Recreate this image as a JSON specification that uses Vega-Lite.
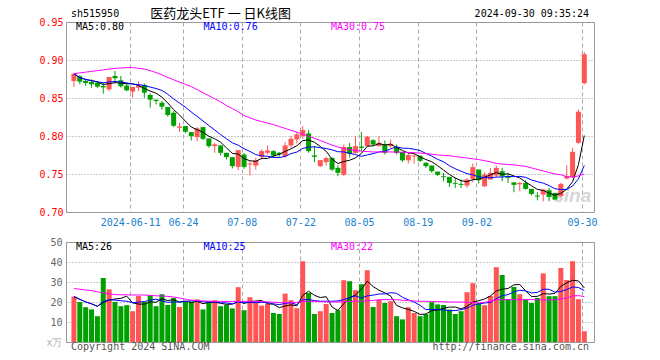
{
"$schema":"https://vega.github.io/schema/vega-lite/v6.json",
"padding":{"left":38,"top":7,"right":5,"bottom":5},
"background":"white",
"datasets":{"k":[
{"i":0,"d":"2024-05-27","o":0.8724,"h":0.882,"l":0.8645,"c":0.882,"v":22.7,"m30":0.882,"vm30":26.7},
{"i":1,"d":"2024-05-28","o":0.8786,"h":0.880,"l":0.868,"c":0.8715,"v":20,"m30":0.883,"vm30":26.4},
{"i":2,"d":"2024-05-29","o":0.8724,"h":0.8746,"l":0.866,"c":0.8698,"v":17.4,"m30":0.884,"vm30":26.0},
{"i":3,"d":"2024-05-30","o":0.871,"h":0.8746,"l":0.8636,"c":0.868,"v":16.3,"m30":0.885,"vm30":25.7},
{"i":4,"d":"2024-05-31","o":0.8702,"h":0.872,"l":0.863,"c":0.865,"v":12.9,"m30":0.886,"vm30":25.1},
{"i":5,"d":"2024-06-03","o":0.8658,"h":0.870,"l":0.8557,"c":0.864,"v":32,"m30":0.887,"vm30":24.5},
{"i":6,"d":"2024-06-04","o":0.8614,"h":0.8777,"l":0.859,"c":0.8777,"v":26.3,"m30":0.888,"vm30":24.1},
{"i":7,"d":"2024-06-05","o":0.879,"h":0.8856,"l":0.870,"c":0.876,"v":20,"m30":0.889,"vm30":23.7},
{"i":8,"d":"2024-06-06","o":0.8733,"h":0.879,"l":0.8636,"c":0.8654,"v":17.9,"m30":0.8895,"vm30":23.6},
{"i":9,"d":"2024-06-07","o":0.8663,"h":0.869,"l":0.859,"c":0.8601,"v":18.4,"m30":0.890,"vm30":23.6},
{"i":10,"d":"2024-06-11","o":0.8584,"h":0.8645,"l":0.8504,"c":0.8645,"v":15.4,"m30":0.890,"vm30":23.5},
{"i":11,"d":"2024-06-12","o":0.8636,"h":0.872,"l":0.859,"c":0.8663,"v":23,"m30":0.889,"vm30":23.5},
{"i":12,"d":"2024-06-13","o":0.8672,"h":0.869,"l":0.8504,"c":0.857,"v":20,"m30":0.888,"vm30":23.5},
{"i":13,"d":"2024-06-14","o":0.854,"h":0.856,"l":0.8372,"c":0.8478,"v":23.3,"m30":0.886,"vm30":23.3},
{"i":14,"d":"2024-06-17","o":0.8478,"h":0.8478,"l":0.8416,"c":0.846,"v":17.9,"m30":0.8835,"vm30":23.1},
{"i":15,"d":"2024-06-18","o":0.8438,"h":0.846,"l":0.8346,"c":0.8386,"v":23.9,"m30":0.8805,"vm30":23.0},
{"i":16,"d":"2024-06-19","o":0.8381,"h":0.8381,"l":0.8254,"c":0.8276,"v":18.5,"m30":0.877,"vm30":22.8},
{"i":17,"d":"2024-06-20","o":0.8306,"h":0.8328,"l":0.8117,"c":0.8135,"v":22,"m30":0.874,"vm30":22.5},
{"i":18,"d":"2024-06-21","o":0.8108,"h":0.8174,"l":0.8056,"c":0.8126,"v":17.5,"m30":0.871,"vm30":22.0},
{"i":19,"d":"2024-06-24","o":0.8131,"h":0.8131,"l":0.8038,"c":0.8056,"v":20.5,"m30":0.868,"vm30":21.4},
{"i":20,"d":"2024-06-25","o":0.8051,"h":0.8051,"l":0.7941,"c":0.7999,"v":20.2,"m30":0.865,"vm30":20.9},
{"i":21,"d":"2024-06-26","o":0.7985,"h":0.8117,"l":0.7933,"c":0.81,"v":21.3,"m30":0.861,"vm30":20.7},
{"i":22,"d":"2024-06-27","o":0.8117,"h":0.8117,"l":0.7946,"c":0.7963,"v":16.3,"m30":0.857,"vm30":20.5},
{"i":23,"d":"2024-06-28","o":0.7968,"h":0.7968,"l":0.7845,"c":0.7867,"v":20.5,"m30":0.853,"vm30":20.4},
{"i":24,"d":"2024-07-01","o":0.7867,"h":0.7911,"l":0.7779,"c":0.7889,"v":20.9,"m30":0.849,"vm30":20.3},
{"i":25,"d":"2024-07-02","o":0.7876,"h":0.7876,"l":0.7744,"c":0.7779,"v":17.9,"m30":0.845,"vm30":20.3},
{"i":26,"d":"2024-07-03","o":0.7779,"h":0.7779,"l":0.7691,"c":0.7722,"v":18.5,"m30":0.840,"vm30":20.3},
{"i":27,"d":"2024-07-04","o":0.7722,"h":0.7722,"l":0.7572,"c":0.7603,"v":16.8,"m30":0.836,"vm30":20.3},
{"i":28,"d":"2024-07-05","o":0.7594,"h":0.7814,"l":0.755,"c":0.7814,"v":27.4,"m30":0.832,"vm30":20.3},
{"i":29,"d":"2024-07-08","o":0.7757,"h":0.7775,"l":0.7568,"c":0.7594,"v":15.9,"m30":0.827,"vm30":20.3},
{"i":30,"d":"2024-07-09","o":0.7625,"h":0.7669,"l":0.748,"c":0.7638,"v":22.4,"m30":0.824,"vm30":20.3},
{"i":31,"d":"2024-07-10","o":0.7612,"h":0.7713,"l":0.7559,"c":0.7682,"v":20,"m30":0.821,"vm30":20.3},
{"i":32,"d":"2024-07-11","o":0.7726,"h":0.7823,"l":0.7691,"c":0.7801,"v":18.2,"m30":0.819,"vm30":20.2},
{"i":33,"d":"2024-07-12","o":0.7779,"h":0.7876,"l":0.7757,"c":0.781,"v":19.2,"m30":0.817,"vm30":20.1},
{"i":34,"d":"2024-07-15","o":0.7801,"h":0.7814,"l":0.7713,"c":0.7744,"v":14.5,"m30":0.815,"vm30":19.9},
{"i":35,"d":"2024-07-16","o":0.7779,"h":0.7788,"l":0.7726,"c":0.7757,"v":14,"m30":0.8125,"vm30":19.7},
{"i":36,"d":"2024-07-17","o":0.7735,"h":0.792,"l":0.7713,"c":0.7876,"v":24.2,"m30":0.810,"vm30":19.6},
{"i":37,"d":"2024-07-18","o":0.7876,"h":0.7999,"l":0.7845,"c":0.7963,"v":20.9,"m30":0.8075,"vm30":19.6},
{"i":38,"d":"2024-07-19","o":0.7955,"h":0.8051,"l":0.7902,"c":0.8021,"v":16.9,"m30":0.805,"vm30":19.8},
{"i":39,"d":"2024-07-22","o":0.80,"h":0.8131,"l":0.7964,"c":0.8078,"v":40.4,"m30":0.8025,"vm30":20.3},
{"i":40,"d":"2024-07-23","o":0.8034,"h":0.8078,"l":0.7779,"c":0.7801,"v":24.5,"m30":0.7995,"vm30":20.3},
{"i":41,"d":"2024-07-24","o":0.7744,"h":0.7867,"l":0.7656,"c":0.7726,"v":14,"m30":0.797,"vm30":20.3},
{"i":42,"d":"2024-07-25","o":0.7603,"h":0.7682,"l":0.7594,"c":0.7682,"v":15.4,"m30":0.794,"vm30":20.2},
{"i":43,"d":"2024-07-26","o":0.7656,"h":0.7726,"l":0.7612,"c":0.7709,"v":19,"m30":0.791,"vm30":20.1},
{"i":44,"d":"2024-07-29","o":0.7713,"h":0.7713,"l":0.7537,"c":0.7559,"v":14.5,"m30":0.788,"vm30":20.0},
{"i":45,"d":"2024-07-30","o":0.7581,"h":0.7612,"l":0.7471,"c":0.7515,"v":15.9,"m30":0.7855,"vm30":20.0},
{"i":46,"d":"2024-07-31","o":0.749,"h":0.7888,"l":0.7475,"c":0.7855,"v":30.9,"m30":0.7835,"vm30":20.2},
{"i":47,"d":"2024-08-01","o":0.7855,"h":0.791,"l":0.7717,"c":0.7767,"v":30.4,"m30":0.782,"vm30":20.3},
{"i":48,"d":"2024-08-02","o":0.7778,"h":0.7998,"l":0.7767,"c":0.7866,"v":25.9,"m30":0.781,"vm30":20.4},
{"i":49,"d":"2024-08-05","o":0.7862,"h":0.8051,"l":0.78,"c":0.7844,"v":28.9,"m30":0.780,"vm30":20.4},
{"i":50,"d":"2024-08-06","o":0.7866,"h":0.80,"l":0.7866,"c":0.799,"v":35.9,"m30":0.7795,"vm30":20.6},
{"i":51,"d":"2024-08-07","o":0.7945,"h":0.7958,"l":0.7866,"c":0.7888,"v":17.5,"m30":0.779,"vm30":20.8},
{"i":52,"d":"2024-08-08","o":0.7866,"h":0.7998,"l":0.7866,"c":0.791,"v":21.2,"m30":0.779,"vm30":21.0},
{"i":53,"d":"2024-08-09","o":0.7888,"h":0.7941,"l":0.7756,"c":0.7778,"v":19.5,"m30":0.779,"vm30":21.2},
{"i":54,"d":"2024-08-12","o":0.7866,"h":0.7954,"l":0.7844,"c":0.7897,"v":20.4,"m30":0.779,"vm30":21.2},
{"i":55,"d":"2024-08-13","o":0.7853,"h":0.7888,"l":0.7756,"c":0.7778,"v":12.9,"m30":0.7788,"vm30":21.1},
{"i":56,"d":"2024-08-14","o":0.779,"h":0.779,"l":0.766,"c":0.768,"v":11.3,"m30":0.7786,"vm30":20.9},
{"i":57,"d":"2024-08-15","o":0.768,"h":0.7779,"l":0.764,"c":0.775,"v":17.4,"m30":0.7784,"vm30":20.7},
{"i":58,"d":"2024-08-16","o":0.7731,"h":0.7779,"l":0.7638,"c":0.7744,"v":14.5,"m30":0.778,"vm30":20.5},
{"i":59,"d":"2024-08-19","o":0.774,"h":0.7744,"l":0.7656,"c":0.7673,"v":12.9,"m30":0.7775,"vm30":20.4},
{"i":60,"d":"2024-08-20","o":0.7647,"h":0.7655,"l":0.758,"c":0.7603,"v":13.9,"m30":0.777,"vm30":20.3},
{"i":61,"d":"2024-08-21","o":0.7612,"h":0.7612,"l":0.7515,"c":0.7537,"v":19.9,"m30":0.776,"vm30":20.3},
{"i":62,"d":"2024-08-22","o":0.7532,"h":0.7532,"l":0.7471,"c":0.7489,"v":18.8,"m30":0.775,"vm30":20.2},
{"i":63,"d":"2024-08-23","o":0.747,"h":0.7515,"l":0.7405,"c":0.7458,"v":18.5,"m30":0.7745,"vm30":20.1},
{"i":64,"d":"2024-08-26","o":0.7462,"h":0.7462,"l":0.733,"c":0.7383,"v":16.2,"m30":0.774,"vm30":20.0},
{"i":65,"d":"2024-08-27","o":0.7383,"h":0.7449,"l":0.7317,"c":0.7371,"v":14,"m30":0.773,"vm30":20.0},
{"i":66,"d":"2024-08-28","o":0.737,"h":0.7427,"l":0.7317,"c":0.7357,"v":15.4,"m30":0.772,"vm30":20.0},
{"i":67,"d":"2024-08-29","o":0.7348,"h":0.7449,"l":0.7317,"c":0.7427,"v":24.9,"m30":0.771,"vm30":19.9},
{"i":68,"d":"2024-08-30","o":0.7436,"h":0.7638,"l":0.7392,"c":0.759,"v":29.4,"m30":0.770,"vm30":19.7},
{"i":69,"d":"2024-09-02","o":0.7559,"h":0.7559,"l":0.7374,"c":0.7418,"v":19.5,"m30":0.769,"vm30":19.5},
{"i":70,"d":"2024-09-03","o":0.7339,"h":0.7524,"l":0.7326,"c":0.7493,"v":18.4,"m30":0.7675,"vm30":19.8},
{"i":71,"d":"2024-09-04","o":0.7427,"h":0.7581,"l":0.7427,"c":0.7515,"v":23,"m30":0.766,"vm30":20.4},
{"i":72,"d":"2024-09-05","o":0.748,"h":0.7612,"l":0.7462,"c":0.7581,"v":37.4,"m30":0.764,"vm30":21.0},
{"i":73,"d":"2024-09-06","o":0.7537,"h":0.7581,"l":0.7405,"c":0.7471,"v":33.5,"m30":0.763,"vm30":21.2},
{"i":74,"d":"2024-09-09","o":0.7471,"h":0.7515,"l":0.7383,"c":0.7449,"v":21.5,"m30":0.7625,"vm30":21.2},
{"i":75,"d":"2024-09-10","o":0.739,"h":0.739,"l":0.726,"c":0.7357,"v":27.5,"m30":0.762,"vm30":21.2},
{"i":76,"d":"2024-09-11","o":0.7365,"h":0.7396,"l":0.7273,"c":0.7383,"v":23.9,"m30":0.761,"vm30":21.2},
{"i":77,"d":"2024-09-12","o":0.7383,"h":0.7418,"l":0.7295,"c":0.7304,"v":21.2,"m30":0.760,"vm30":21.2},
{"i":78,"d":"2024-09-13","o":0.7304,"h":0.7304,"l":0.7216,"c":0.7238,"v":19.5,"m30":0.758,"vm30":21.2},
{"i":79,"d":"2024-09-18","o":0.7216,"h":0.726,"l":0.7154,"c":0.7203,"v":22,"m30":0.756,"vm30":21.1},
{"i":80,"d":"2024-09-19","o":0.7229,"h":0.7295,"l":0.714,"c":0.7295,"v":34.3,"m30":0.754,"vm30":21.0},
{"i":81,"d":"2024-09-20","o":0.7286,"h":0.7317,"l":0.7141,"c":0.7198,"v":22.9,"m30":0.752,"vm30":21.0},
{"i":82,"d":"2024-09-23","o":0.7251,"h":0.7251,"l":0.715,"c":0.7163,"v":22.9,"m30":0.750,"vm30":21.1},
{"i":83,"d":"2024-09-24","o":0.7207,"h":0.7383,"l":0.7194,"c":0.737,"v":37,"m30":0.749,"vm30":21.5},
{"i":84,"d":"2024-09-25","o":0.7441,"h":0.7616,"l":0.7427,"c":0.7471,"v":31,"m30":0.7465,"vm30":22.0},
{"i":85,"d":"2024-09-26","o":0.7458,"h":0.7845,"l":0.7449,"c":0.7792,"v":40.4,"m30":0.746,"vm30":23.0},
{"i":86,"d":"2024-09-27","o":0.791,"h":0.835,"l":0.7897,"c":0.832,"v":21.4,"m30":0.7475,"vm30":23.2},
{"i":87,"d":"2024-09-30","o":0.8694,"h":0.9107,"l":0.868,"c":0.9076,"v":5.4,"m30":0.750,"vm30":22.7}
]},
"data":{"name":"k"},
"transform":[
{"window":[{"op":"mean","field":"c","as":"m5"}],"frame":[-4,0],"sort":[{"field":"i"}]},
{"window":[{"op":"mean","field":"c","as":"m10"}],"frame":[-9,0],"sort":[{"field":"i"}]},
{"window":[{"op":"mean","field":"v","as":"vm5"}],"frame":[-4,0],"sort":[{"field":"i"}]},
{"window":[{"op":"mean","field":"v","as":"vm10"}],"frame":[-9,0],"sort":[{"field":"i"}]}
],
"spacing":30,
"bounds":"flush",
"vconcat":[
{
"width":528,"height":190,
"view":{"stroke":"#999999","strokeWidth":1},
"layer":[
{"mark":{"type":"rule","strokeWidth":1},
 "encoding":{
  "x":{"field":"i","type":"quantitative","scale":{"domain":[-0.5,87.8],"nice":false,"zero":false},
   "axis":{"title":null,"values":[9.6,18.6,28.6,38.6,48.6,58.6,68.6,86.6],
    "labelExpr":"datum.value < 10 ? '2024-06-11' : datum.value < 19 ? '06-24' : datum.value < 29 ? '07-08' : datum.value < 39 ? '07-22' : datum.value < 49 ? '08-05' : datum.value < 59 ? '08-19' : datum.value < 69 ? '09-02' : '09-30'",
    "grid":true,"gridDash":[4,3],"gridColor":"#aaaaaa","domain":false,"ticks":false,"tickSize":0,"labelPadding":5,"labelFlush":8,"labelOverlap":false,"labelColor":"#1a7fd0","labelFont":"DejaVu Sans Mono","labelFontSize":10}},
  "y":{"field":"l","type":"quantitative","scale":{"domain":[0.70,0.95],"nice":false,"zero":false},
   "axis":{"title":null,"values":[0.70,0.75,0.80,0.85,0.90,0.95],"tickCount":6,"format":".2f","grid":true,"gridDash":[1,2],"gridColor":"#999999","domain":false,"ticks":false,"tickSize":0,"labelAlign":"left","labelBaseline":"middle","labelPadding":27,"labelColor":"#ff0000","labelFont":"DejaVu Sans Mono","labelFontSize":10,"labelOverlap":false,"labelBound":false}},
  "y2":{"field":"h"},
  "color":{"condition":{"test":"datum.c >= datum.o","value":"#ff5555"},"value":"#00a000"}}},
{"data":{"values":[{}]},"mark":{"type":"text","text":"sina","font":"Liberation Sans","fontStyle":"italic","fontWeight":"bold","fontSize":19,"color":"#d6d6d6","align":"center","baseline":"middle"},
 "encoding":{"x":{"datum":84.95,"type":"quantitative"},"y":{"datum":0.7211,"type":"quantitative"}}},
{"mark":{"type":"bar","width":5},
 "encoding":{"x":{"field":"i","type":"quantitative"},"y":{"field":"o","type":"quantitative"},"y2":{"field":"c"},
  "color":{"condition":{"test":"datum.c >= datum.o","value":"#ff5555"},"value":"#00a000"}}},
{"mark":{"type":"line","color":"#000000","strokeWidth":1},"encoding":{"x":{"field":"i","type":"quantitative"},"y":{"field":"m5","type":"quantitative"}}},
{"mark":{"type":"line","color":"#0000ff","strokeWidth":1},"encoding":{"x":{"field":"i","type":"quantitative"},"y":{"field":"m10","type":"quantitative"}}},
{"mark":{"type":"line","color":"#ff00ff","strokeWidth":1},"encoding":{"x":{"field":"i","type":"quantitative"},"y":{"field":"m30","type":"quantitative"}}},
{"data":{"values":[{}]},"mark":{"type":"text","text":"sh515950","font":"DejaVu Sans Mono","fontSize":10,"color":"#000000","align":"left","baseline":"middle"},
 "encoding":{"x":{"datum":-0.5,"type":"quantitative"},"y":{"datum":0.96,"type":"quantitative"}}},
{"data":{"values":[{}]},"mark":{"type":"text","text":"医药龙头ETF 一 日K线图","font":"Noto Sans CJK SC","fontSize":13,"color":"#000000","align":"center","baseline":"middle"},
 "encoding":{"x":{"datum":25.0,"type":"quantitative"},"y":{"datum":0.96,"type":"quantitative"}}},
{"data":{"values":[{}]},"mark":{"type":"text","text":"2024-09-30 09:35:24","font":"DejaVu Sans Mono","fontSize":10,"color":"#000000","align":"right","baseline":"middle"},
 "encoding":{"x":{"datum":87.8,"type":"quantitative"},"y":{"datum":0.96,"type":"quantitative"}}},
{"data":{"values":[{}]},"mark":{"type":"text","text":"MA5:0.80","font":"DejaVu Sans Mono","fontSize":10,"color":"#000000","align":"left","baseline":"middle"},
 "encoding":{"x":{"datum":0.34,"type":"quantitative"},"y":{"datum":0.9434,"type":"quantitative"}}},
{"data":{"values":[{}]},"mark":{"type":"text","text":"MA10:0.76","font":"DejaVu Sans Mono","fontSize":10,"color":"#0000ff","align":"left","baseline":"middle"},
 "encoding":{"x":{"datum":22.08,"type":"quantitative"},"y":{"datum":0.9434,"type":"quantitative"}}},
{"data":{"values":[{}]},"mark":{"type":"text","text":"MA30:0.75","font":"DejaVu Sans Mono","fontSize":10,"color":"#ff00ff","align":"left","baseline":"middle"},
 "encoding":{"x":{"datum":43.8,"type":"quantitative"},"y":{"datum":0.9434,"type":"quantitative"}}}
]
},
{
"width":528,"height":100,
"view":{"stroke":"#999999","strokeWidth":1},
"layer":[
{"mark":{"type":"bar","width":5},
 "encoding":{
  "x":{"field":"i","type":"quantitative","scale":{"domain":[-0.5,87.8],"nice":false,"zero":false},
   "axis":{"title":null,"values":[9.6,18.6,28.6,38.6,48.6,58.6,68.6,86.6],"labels":false,"grid":true,"gridDash":[4,3],"gridColor":"#aaaaaa","domain":false,"ticks":false,"tickSize":0}},
  "y":{"field":"v","type":"quantitative","scale":{"domain":[0,50],"nice":false,"zero":true},
   "axis":{"title":null,"values":[0,10,20,30,40,50],"tickCount":6,"labelExpr":"datum.value == 0 ? 'x万' : datum.label","grid":true,"gridDash":[1,2],"gridColor":"#999999","domain":false,"ticks":false,"tickSize":0,"labelAlign":"right","labelBaseline":"middle","labelPadding":4,"labelColor":{"condition":{"test":"datum.value == 0","value":"#b0b0b0"},"value":"#666666"},"labelFont":"DejaVu Sans Mono","labelFontSize":10,"labelOverlap":false,"labelBound":false}},
  "color":{"condition":{"test":"datum.c >= datum.o","value":"#ff5555"},"value":"#00a000"}}},
{"mark":{"type":"line","color":"#000000","strokeWidth":1},"encoding":{"x":{"field":"i","type":"quantitative"},"y":{"field":"vm5","type":"quantitative"}}},
{"mark":{"type":"line","color":"#0000ff","strokeWidth":1},"encoding":{"x":{"field":"i","type":"quantitative"},"y":{"field":"vm10","type":"quantitative"}}},
{"mark":{"type":"line","color":"#ff00ff","strokeWidth":1},"encoding":{"x":{"field":"i","type":"quantitative"},"y":{"field":"vm30","type":"quantitative"}}},
{"data":{"values":[{}]},"mark":{"type":"text","text":"MA5:26","font":"DejaVu Sans Mono","fontSize":10,"color":"#000000","align":"left","baseline":"middle"},
 "encoding":{"x":{"datum":0.34,"type":"quantitative"},"y":{"datum":47.75,"type":"quantitative"}}},
{"data":{"values":[{}]},"mark":{"type":"text","text":"MA10:25","font":"DejaVu Sans Mono","fontSize":10,"color":"#0000ff","align":"left","baseline":"middle"},
 "encoding":{"x":{"datum":22.08,"type":"quantitative"},"y":{"datum":47.75,"type":"quantitative"}}},
{"data":{"values":[{}]},"mark":{"type":"text","text":"MA30:22","font":"DejaVu Sans Mono","fontSize":10,"color":"#ff00ff","align":"left","baseline":"middle"},
 "encoding":{"x":{"datum":43.8,"type":"quantitative"},"y":{"datum":47.75,"type":"quantitative"}}},
{"data":{"values":[{}]},"mark":{"type":"text","text":"Copyright 2024 SINA.COM","font":"DejaVu Sans Mono","fontSize":10,"color":"#555555","align":"left","baseline":"middle"},
 "encoding":{"x":{"datum":-0.5,"type":"quantitative"},"y":{"datum":-2.25,"type":"quantitative"}}},
{"data":{"values":[{}]},"mark":{"type":"text","text":"http://finance.sina.com.cn","font":"DejaVu Sans Mono","fontSize":10,"color":"#555555","align":"right","baseline":"middle"},
 "encoding":{"x":{"datum":87.8,"type":"quantitative"},"y":{"datum":-2.25,"type":"quantitative"}}}
]
}
],
"config":{"view":{"stroke":"#999999","strokeWidth":1},"axis":{"labelFont":"DejaVu Sans Mono","labelFontSize":10,"labelOverlap":false}}
}
